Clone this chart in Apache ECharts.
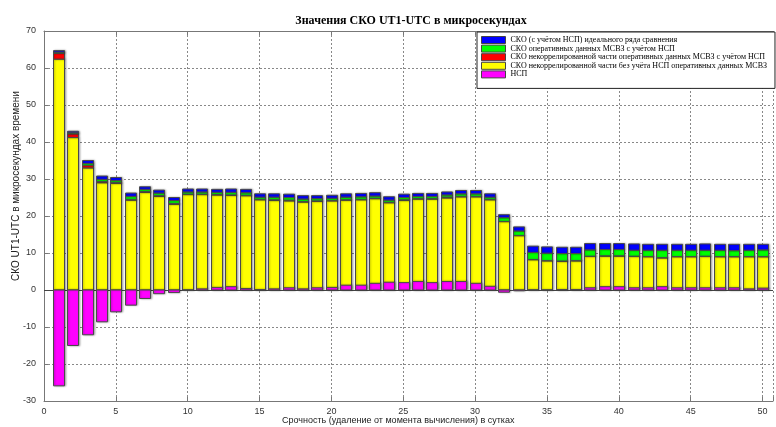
<!DOCTYPE html>
<html>
<head>
<meta charset="utf-8">
<script src="https://cdn.jsdelivr.net/npm/echarts@6/dist/echarts.min.js"></script>
<style>
  html, body { margin: 0; padding: 0; background: #fff; }
  #chart { width: 776px; height: 427px; }
</style>
</head>
<body>
<div id="chart"></div>
<script>
// срочность, сутки
const days = [1, 2, 3, 4, 5, 6, 7, 8, 9, 10,
  11, 12, 13, 14, 15, 16, 17, 18, 19, 20,
  21, 22, 23, 24, 25, 26, 27, 28, 29, 30,
  31, 32, 33, 34, 35, 36, 37, 38, 39, 40,
  41, 42, 43, 44, 45, 46, 47, 48, 49, 50]

// некоррелированная часть без учёта НСП (жёлтый)
const yellowVals = [62.4, 41.2, 33.0, 29.0, 28.8, 24.3, 26.4, 25.3, 23.2, 25.8,
  25.8, 25.7, 25.6, 25.5, 24.4, 24.2, 24.1, 23.8, 24.0, 24.1,
  24.3, 24.4, 24.7, 23.6, 24.2, 24.6, 24.6, 24.9, 25.2, 25.2,
  24.4, 18.5, 14.7, 8.2, 7.9, 7.8, 7.9, 9.1, 9.2, 9.2,
  9.1, 9.0, 8.7, 9.0, 9.0, 9.1, 9.0, 9.0, 9.0, 9.0]
// некоррелированная часть с учётом НСП (красный, прирост)
const redVals = [1.6, 1.0, 0.7, 0.3, 0.3, 0.2, 0.2, 0.2, 0.2, 0.1,
  0.1, 0.1, 0.1, 0.1, 0.1, 0.2, 0.2, 0.1, 0.1, 0.1,
  0.1, 0.1, 0.1, 0.1, 0.2, 0.1, 0.1, 0.2, 0.1, 0.1,
  0.1, 0.05, 0.05, 0.05, 0.05, 0.05, 0.05, 0.05, 0.05, 0.05,
  0.05, 0.05, 0.05, 0.05, 0.05, 0.05, 0.05, 0.05, 0.05, 0.05]
// оперативные данные с учётом НСП (зелёный, прирост)
const greenVals = [0.3, 0.3, 0.5, 0.6, 0.5, 0.8, 0.6, 0.7, 0.8, 0.6,
  0.6, 0.6, 0.7, 0.7, 0.6, 0.7, 0.7, 0.7, 0.6, 0.6,
  0.7, 0.7, 0.6, 0.6, 0.6, 0.6, 0.6, 0.6, 0.7, 0.7,
  0.6, 1.0, 1.2, 1.9, 2.0, 2.0, 1.9, 1.7, 1.7, 1.7,
  1.6, 1.7, 2.0, 1.7, 1.7, 1.6, 1.7, 1.6, 1.7, 1.8]
// идеальный ряд сравнения (синий, прирост)
const blueVals = [0.4, 0.4, 0.8, 0.9, 0.8, 0.9, 0.7, 0.8, 0.8, 0.8,
  0.8, 0.8, 0.9, 0.9, 0.9, 0.9, 0.9, 0.9, 0.8, 0.8,
  0.9, 0.9, 0.9, 0.9, 0.9, 0.8, 0.8, 0.8, 0.9, 0.9,
  0.9, 0.8, 1.1, 1.7, 1.7, 1.7, 1.7, 1.7, 1.6, 1.6,
  1.7, 1.6, 1.6, 1.6, 1.6, 1.7, 1.6, 1.7, 1.6, 1.5]
// НСП (пурпурный)
const nspVals = [-25.9, -15.0, -12.1, -8.6, -5.9, -4.1, -2.3, -1.0, -0.7, 0,
  0.3, 0.7, 0.9, 0.4, 0.1, 0.3, 0.6, 0.3, 0.6, 0.7,
  1.3, 1.3, 1.8, 2.1, 2.0, 2.3, 2.0, 2.3, 2.3, 1.8,
  1.0, -0.6, -0.2, 0, 0, 0.1, 0.1, 0.6, 0.9, 0.9,
  0.6, 0.6, 0.9, 0.6, 0.6, 0.6, 0.6, 0.6, 0.3, 0.5]

const names = [
  'СКО (с учётом НСП) идеального ряда сравнения',
  'СКО оперативных данных МСВЗ с учётом НСП',
  'СКО некоррелированной части оперативных данных МСВЗ с учётом НСП',
  'СКО некоррелированной части без учёта НСП оперативных данных МСВЗ',
  'НСП'
]

// накопление слоёв: [x, низ, верх]
const layers = [yellowVals, redVals, greenVals, blueVals]
const stacked = []
let base = days.map(() => 0)
layers.forEach(vals => {
  stacked.push(days.map((d, i) => [d, base[i], base[i] + vals[i]]))
  base = base.map((b, i) => b + vals[i])
})
const nspRows = days.map((d, i) => [d, 0, nspVals[i]])

const halfWidth = 0.39

function renderBar(params, api) {
  const x = api.value(0)
  const p0 = api.coord([x - halfWidth, api.value(1)])
  const p1 = api.coord([x + halfWidth, api.value(2)])
  const color = api.visual('color')
  return {
    type: 'rect',
    shape: {
      x: Math.round(p0[0]) + 0.5,
      y: Math.min(p0[1], p1[1]),
      width: Math.round(p1[0] - p0[0]),
      height: Math.abs(p1[1] - p0[1])
    },
    style: {
      fill: color,
      stroke: '#4a4a4a',
      lineWidth: 1,
      shadowColor: 'rgba(0,0,0,0.28)',
      shadowBlur: 2,
      shadowOffsetX: 1
    }
  }
}

const barSeries = (name, color, rows, z) => ({
  name: name,
  type: 'custom',
  renderItem: renderBar,
  itemStyle: { color: color },
  encode: { x: 0, y: [1, 2] },
  data: rows,
  z: z
})

const axisGray = '#777'

const chart = echarts.init(document.getElementById('chart'))

const option = {
  animation: false,
  backgroundColor: '#fff',
  title: {
    text: 'Значения СКО UT1-UTC в микросекундах',
    left: 406,
    top: 10,
    textAlign: 'center',
    textStyle: { fontFamily: 'Liberation Serif', fontSize: 12, fontWeight: 'bold', color: '#000' }
  },
  legend: {
    data: names,
    orient: 'vertical',
    left: 477,
    top: 32,
    itemWidth: 24,
    itemHeight: 7,
    itemGap: 0.6,
    padding: [4, 8, 10, 4],
    backgroundColor: '#fff',
    borderColor: '#222',
    borderWidth: 1,
    icon: 'rect',
    itemStyle: { borderColor: '#444', borderWidth: 1 },
    textStyle: { fontFamily: 'Liberation Serif', fontSize: 8, color: '#000', lineHeight: 7.8 }
  },
  grid: {
    left: 44,
    right: 0,
    top: 31,
    bottom: 26
  },
  xAxis: [
    {
      type: 'value',
      min: 0,
      max: 50.73,
      interval: 5,
      axisLine: { onZero: false, lineStyle: { color: axisGray } },
      axisTick: { inside: true, length: 4, lineStyle: { color: axisGray } },
      axisLabel: {
        color: '#333', fontFamily: 'Liberation Sans', fontSize: 9, margin: 6,
        formatter: v => (v % 5 === 0 ? String(v) : '')
      },
      splitLine: { show: true, lineStyle: { color: '#888', type: [2, 2] } }
    },
    {
      type: 'value',
      position: 'top',
      min: 0,
      max: 50.73,
      interval: 5,
      axisLine: { onZero: false, lineStyle: { color: axisGray } },
      axisTick: { inside: true, length: 4, lineStyle: { color: axisGray } },
      axisLabel: { show: false },
      splitLine: { show: false }
    }
  ],
  yAxis: {
    type: 'value',
    min: -30,
    max: 70,
    interval: 10,
    axisLine: { show: true, lineStyle: { color: axisGray } },
    axisTick: { show: true, inside: true, length: 4, lineStyle: { color: axisGray } },
    axisLabel: { color: '#333', fontFamily: 'Liberation Sans', fontSize: 9, margin: 8 },
    splitLine: { show: true, lineStyle: { color: '#888', type: [2, 2] } }
  },
  series: [
    Object.assign(barSeries(names[3], '#ffff00', stacked[0], 2), {
      markLine: {
        silent: true, symbol: 'none', label: { show: false },
        lineStyle: { color: '#444', type: 'solid', width: 1 },
        data: [{ yAxis: 0 }]
      }
    }),
    barSeries(names[2], '#ff0000', stacked[1], 3),
    barSeries(names[1], '#00ff00', stacked[2], 4),
    barSeries(names[0], '#0000ff', stacked[3], 5),
    barSeries(names[4], '#ff00ff', nspRows, 6)
  ],
  graphic: [
    {
      type: 'text', left: 282, top: 416,
      style: {
        text: 'Срочность (удаление от момента вычисления) в сутках',
        font: '9px "Liberation Sans"', fill: '#222'
      }
    },
    {
      type: 'text', x: 16, y: 186, rotation: Math.PI / 2,
      style: {
        text: 'СКО UT1-UTC в микросекундах времени',
        font: '10px "Liberation Sans"', fill: '#222',
        align: 'center', verticalAlign: 'middle'
      }
    }
  ]
}

chart.setOption(option)
</script>
</body>
</html>
